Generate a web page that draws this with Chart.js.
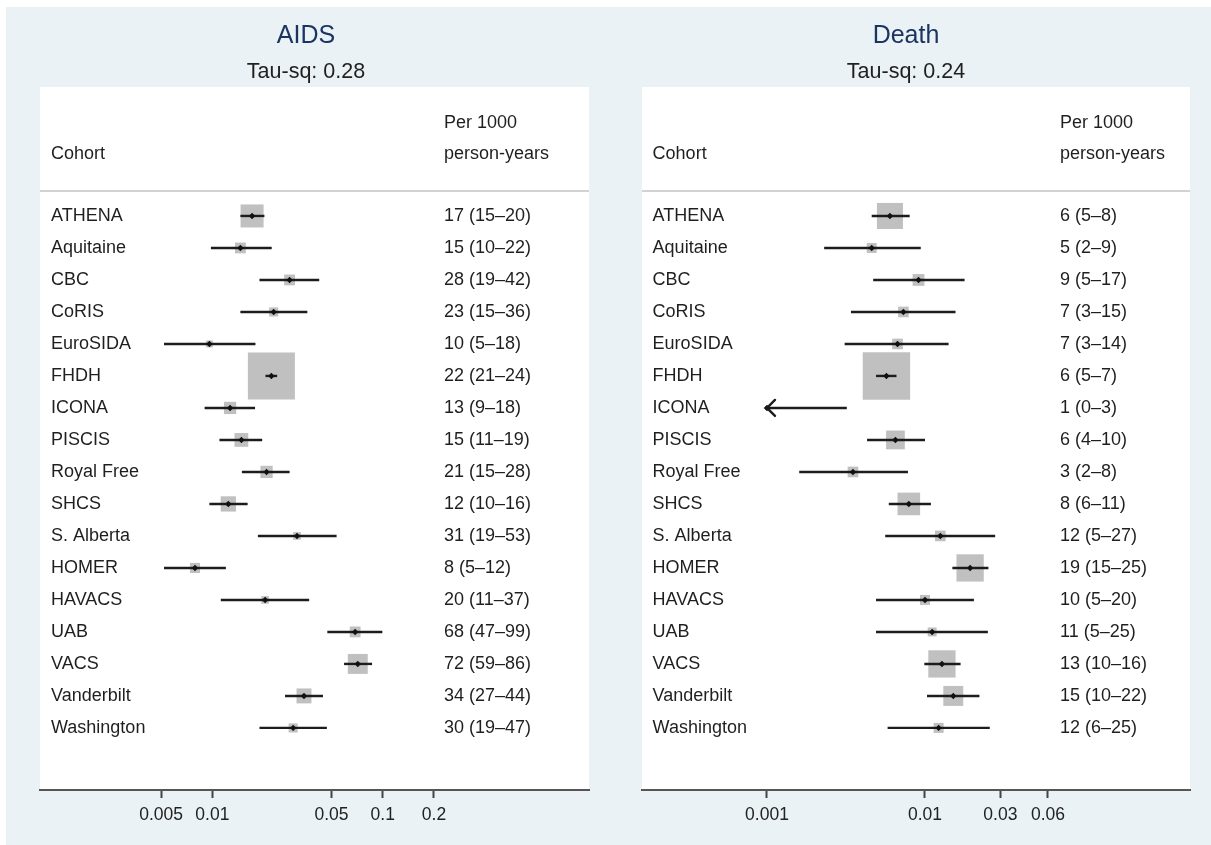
<!DOCTYPE html>
<html>
<head>
<meta charset="utf-8">
<title>AIDS and death rates by cohort</title>
<script src="https://cdn.jsdelivr.net/npm/chart.js@4.4.1/dist/chart.umd.min.js"></script>
<style>
  html, body { margin: 0; padding: 0; background: #fff; }
  #page { position: relative; width: 1211px; height: 845px; overflow: hidden; }
  #bg { position: absolute; left: 6px; top: 7px; right: 0; bottom: 0; background: #eaf2f5; }
  canvas { position: absolute; top: 0; }
</style>
</head>
<body>
<div id="page">
  <div id="bg"></div>
  <canvas id="aidsChart" width="606" height="845" style="left:0"></canvas>
  <canvas id="deathChart" width="605" height="845" style="left:606px"></canvas>
</div>
<script>
// cohorts, top to bottom
const cohorts = ["ATHENA", "Aquitaine", "CBC", "CoRIS", "EuroSIDA", "FHDH", "ICONA", "PISCIS",
  "Royal Free", "SHCS", "S. Alberta", "HOMER", "HAVACS", "UAB", "VACS", "Vanderbilt", "Washington"];

// AIDS: rate and 95% CI per 1000 person-years, weight (%)
const aidsRate = [17.1, 14.6, 28.4, 22.9, 9.6, 22.2, 12.7, 14.8, 20.8, 12.4, 31.4, 7.9, 20.4, 68.9, 71.4, 34.5, 29.8];
const aidsLow = [14.6, 9.8, 18.9, 14.6, 5.2, 20.5, 9.0, 11.0, 14.9, 9.6, 18.5, 5.2, 11.2, 47.3, 59.3, 26.7, 18.9];
const aidsHigh = [20.2, 22.3, 42.4, 36.1, 17.9, 24.0, 17.8, 19.6, 28.4, 16.1, 53.6, 12.0, 37.0, 99.5, 86.6, 44.6, 47.0];
const aidsWeight = [10.9, 2.4, 2.4, 1.7, 1.0, 45.5, 3.1, 3.9, 3.1, 4.8, 1.2, 2.1, 1.2, 2.4, 8.2, 4.6, 1.7];
const aidsText = ["17 (15–20)", "15 (10–22)", "28 (19–42)", "23 (15–36)", "10 (5–18)", "22 (21–24)", "13 (9–18)",
  "15 (11–19)", "21 (15–28)", "12 (10–16)", "31 (19–53)", "8 (5–12)", "20 (11–37)", "68 (47–99)", "72 (59–86)",
  "34 (27–44)", "30 (19–47)"];
const aidsTicks = [0.005, 0.01, 0.05, 0.1, 0.2];

// Death
const deathRate = [6.0, 4.6, 9.1, 7.3, 6.7, 5.7, 1.0, 6.5, 3.5, 7.9, 12.5, 19.3, 10.0, 11.1, 12.8, 15.1, 12.2];
const deathLow = [4.6, 2.3, 4.7, 3.4, 3.1, 4.9, 0, 4.3, 1.6, 5.9, 5.6, 14.9, 4.9, 4.9, 9.9, 10.3, 5.8];
const deathHigh = [8.0, 9.4, 17.8, 15.6, 14.1, 6.6, 3.2, 10.0, 7.8, 10.9, 27.8, 25.2, 20.4, 25.0, 16.8, 22.1, 25.7];
const deathWeight = [10.2, 1.5, 2.1, 1.7, 1.7, 33.9, 0.15, 5.3, 1.7, 7.7, 1.7, 11.2, 1.5, 1.2, 11.2, 6.0, 1.5];
const deathText = ["6 (5–8)", "5 (2–9)", "9 (5–17)", "7 (3–15)", "7 (3–14)", "6 (5–7)", "1 (0–3)", "6 (4–10)",
  "3 (2–8)", "8 (6–11)", "12 (5–27)", "19 (15–25)", "10 (5–20)", "11 (5–25)", "13 (10–16)", "15 (10–22)", "12 (6–25)"];
const deathTicks = [0.001, 0.01, 0.03, 0.06];

const FONT = "'Liberation Sans', Arial, Helvetica, sans-serif";
Chart.defaults.font.family = FONT;

function makeForest(canvasId, p) {
  const clipMin = p.ticks[0];

  const datasets = [];
  // point estimate (small diamond on top)
  datasets.push({
    data: p.rate.map((r, i) => ({ x: r / 1000, y: i })),
    pointStyle: "rectRot",
    pointRadius: 3.2,
    backgroundColor: "#111",
    borderWidth: 0,
    order: 0
  });
  // confidence intervals, one line per cohort
  p.rate.forEach((r, i) => {
    datasets.push({
      showLine: true,
      data: [{ x: Math.max(p.low[i] / 1000, clipMin), y: i }, { x: p.high[i] / 1000, y: i }],
      borderColor: "#1c1c1c",
      borderWidth: 2.4,
      pointRadius: 0,
      order: 1
    });
  });
  // weight boxes (area proportional to weight)
  datasets.push({
    data: p.rate.map((r, i) => ({ x: r / 1000, y: i })),
    pointStyle: "rect",
    pointRadius: (ctx) => p.boxScale * Math.sqrt(p.weight[ctx.dataIndex]) / Math.SQRT2,
    backgroundColor: "#c0c0c0",
    borderWidth: 0,
    order: 2
  });

  const forestText = {
    id: "forestText",
    beforeDraw(chart) {
      const { ctx, chartArea: a } = chart;
      ctx.save();
      ctx.fillStyle = "#fff";
      ctx.fillRect(a.left, a.top, a.right - a.left, a.bottom - a.top);
      ctx.restore();
    },
    afterDatasetsDraw(chart) {
      // arrows where the interval runs off the axis
      const { ctx } = chart;
      const xs = chart.scales.x, ys = chart.scales.y;
      ctx.save();
      ctx.strokeStyle = "#1c1c1c";
      ctx.lineWidth = 2.4;
      ctx.lineCap = "round";
      p.low.forEach((lo, i) => {
        if (lo / 1000 >= clipMin) return;
        const x = xs.getPixelForValue(clipMin), y = ys.getPixelForValue(i);
        ctx.beginPath();
        ctx.moveTo(x + 8, y - 8);
        ctx.lineTo(x, y);
        ctx.lineTo(x + 8, y + 8);
        ctx.stroke();
      });
      ctx.restore();
    },
    afterDraw(chart) {
      const { ctx, chartArea: a } = chart;
      const ys = chart.scales.y;
      ctx.save();
      ctx.textAlign = "center";
      ctx.textBaseline = "alphabetic";
      ctx.fillStyle = "#1b3562";
      ctx.font = "25px " + FONT;
      ctx.fillText(p.title, p.titleX, 42.7);
      ctx.fillStyle = "#1f1f1f";
      ctx.font = "21.5px " + FONT;
      ctx.fillText(p.tau, p.titleX, 78.3);

      // header
      ctx.textAlign = "left";
      ctx.font = "18px " + FONT;
      ctx.fillText("Cohort", p.labelX, 159.3);
      ctx.fillText("Per 1000", p.valueX, 128.3);
      ctx.fillText("person-years", p.valueX, 159.3);

      ctx.strokeStyle = "#d2d2d2";
      ctx.lineWidth = 2;
      ctx.beginPath();
      ctx.moveTo(a.left, 191);
      ctx.lineTo(a.right, 191);
      ctx.stroke();

      // rows
      ctx.textBaseline = "middle";
      cohorts.forEach((c, i) => {
        const y = ys.getPixelForValue(i);
        ctx.fillText(c, p.labelX, y);
        ctx.fillText(p.text[i], p.valueX, y);
      });
      ctx.restore();
    }
  };

  return new Chart(document.getElementById(canvasId), {
    type: "scatter",
    data: { datasets },
    options: {
      responsive: false,
      animation: false,
      events: [],
      layout: { autoPadding: false, padding: { left: p.padLeft, right: p.padRight, top: 87, bottom: 10 } },
      plugins: { legend: { display: false }, tooltip: { enabled: false } },
      scales: {
        x: {
          type: "logarithmic",
          min: p.xMin,
          max: p.xMax,
          afterBuildTicks: (s) => { s.ticks = p.ticks.map((v) => ({ value: v })); },
          afterFit: (s) => { s.height = 45; },
          ticks: {
            callback: (v) => String(v),
            font: { size: 17.5 },
            color: "#222",
            padding: 7,
            maxRotation: 0,
            autoSkip: false
          },
          grid: { drawOnChartArea: false, drawTicks: true, tickLength: 8, tickWidth: 2, tickColor: "#444" },
          border: { display: true, color: "#555", width: 2 }
        },
        y: { type: "linear", min: -4.03, max: 17.94, reverse: true, display: false }
      }
    },
    plugins: [forestText]
  });
}

makeForest("aidsChart", {
  title: "AIDS", tau: "Tau-sq: 0.28",
  rate: aidsRate, low: aidsLow, high: aidsHigh, weight: aidsWeight, text: aidsText, ticks: aidsTicks,
  xMin: 0.000972, xMax: 1.627, boxScale: 6.97,
  padLeft: 40, padRight: 17, labelX: 51, valueX: 444, titleX: 306
});

makeForest("deathChart", {
  title: "Death", tau: "Tau-sq: 0.24",
  rate: deathRate, low: deathLow, high: deathHigh, weight: deathWeight, text: deathText, ticks: deathTicks,
  xMin: 0.0001618, xMax: 0.4755, boxScale: 8.15,
  padLeft: 36, padRight: 21, labelX: 46.6, valueX: 454, titleX: 300
});
</script>
</body>
</html>
